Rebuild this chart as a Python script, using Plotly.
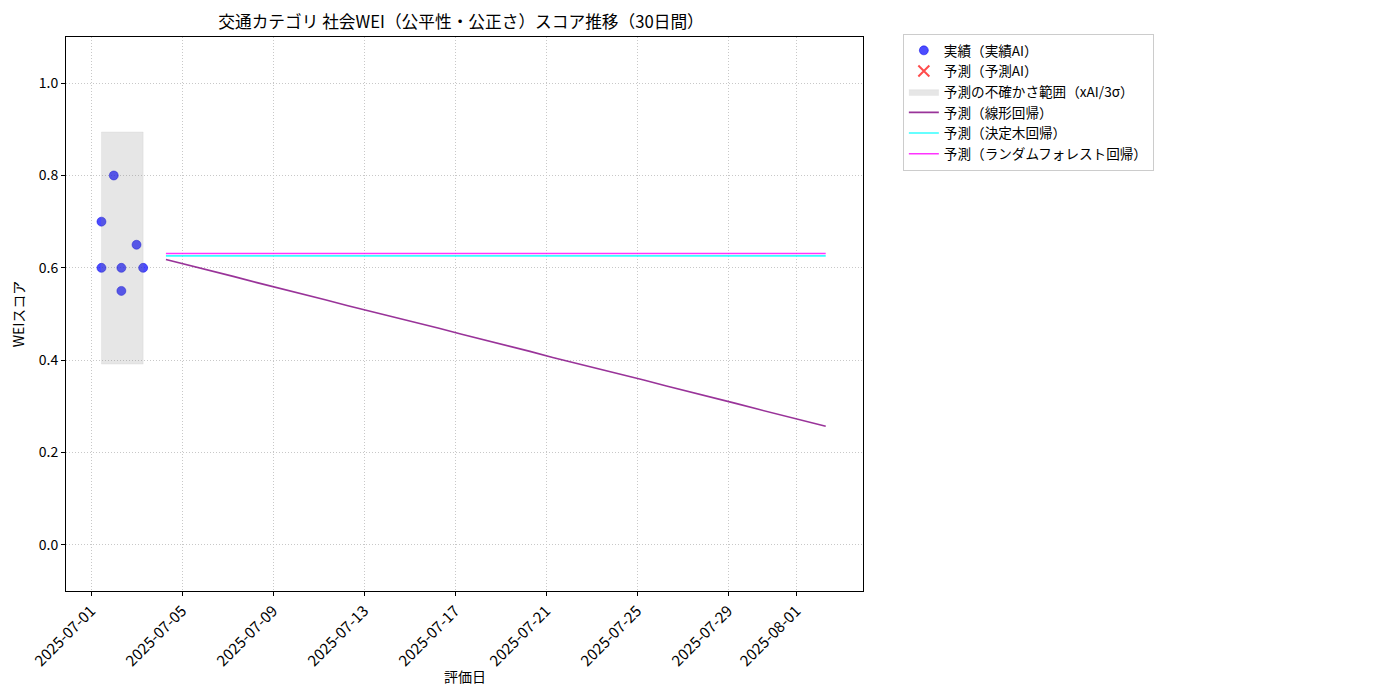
import numpy as np
import pandas as pd
import plotly.graph_objects as go

# ---- data ----
actual_dates = ["2025-07-01 11:00", "2025-07-01 11:00", "2025-07-02 00:00",
                "2025-07-02 08:00", "2025-07-02 08:00", "2025-07-03 00:00",
                "2025-07-03 07:00"]
actual_values = [0.70, 0.60, 0.80, 0.60, 0.55, 0.65, 0.60]

forecast_start = "2025-07-04 07:00"
forecast_days = 30
linear_values = [0.618, 0.606, 0.593, 0.581, 0.568, 0.556, 0.543, 0.531, 0.518, 0.506,
                 0.493, 0.481, 0.469, 0.456, 0.444, 0.431, 0.419, 0.406, 0.394, 0.381,
                 0.369, 0.357, 0.344, 0.332, 0.319, 0.307, 0.294, 0.282, 0.269, 0.257]
tree_values = [0.626] * 30
forest_values = [0.631] * 30

tick_dates = ["2025-07-01", "2025-07-05", "2025-07-09", "2025-07-13", "2025-07-17",
              "2025-07-21", "2025-07-25", "2025-07-29", "2025-08-01"]

title_text = "交通カテゴリ 社会WEI（公平性・公正さ）スコア推移（30日間）"
FONT = "Noto Sans CJK JP"

# ---- derived ----
ad = pd.to_datetime(actual_dates)
fd = pd.date_range(start=forecast_start, periods=forecast_days, freq="D")
mean = float(np.mean(actual_values))
sd = float(np.std(actual_values, ddof=1))
lo, hi = mean - 3 * sd, mean + 3 * sd
x0, x1 = ad.min(), ad.max()

fig = go.Figure()
fig.add_trace(go.Scatter(
    x=ad, y=actual_values, mode="markers", name="実績（実績AI）",
    marker=dict(color="rgba(0,0,255,0.7)", size=9,
                line=dict(width=0.6, color="rgba(0,0,230,0.8)"))))
fig.add_trace(go.Scatter(
    x=[None], y=[None], mode="markers", name="予測（予測AI）",
    marker=dict(color="rgba(255,0,0,0.7)", symbol="x-thin", size=11,
                line=dict(color="rgba(255,0,0,0.7)", width=2))))
fig.add_trace(go.Scatter(
    x=[x0, x1, x1, x0, x0], y=[lo, lo, hi, hi, lo], mode="lines",
    fill="toself", fillcolor="rgba(128,128,128,0.2)",
    line=dict(width=0.5, color="rgba(128,128,128,0.2)"),
    name="予測の不確かさ範囲（xAI/3σ）"))
fig.add_trace(go.Scatter(
    x=fd, y=linear_values, mode="lines", name="予測（線形回帰）",
    line=dict(color="rgba(128,0,128,0.8)", width=1.6)))
fig.add_trace(go.Scatter(
    x=fd, y=tree_values, mode="lines", name="予測（決定木回帰）",
    line=dict(color="rgba(0,255,255,0.8)", width=1.6)))
fig.add_trace(go.Scatter(
    x=fd, y=forest_values, mode="lines", name="予測（ランダムフォレスト回帰）",
    line=dict(color="rgba(255,0,255,0.8)", width=1.6)))

fig.update_layout(
    width=1400, height=700,
    margin=dict(l=58, r=545, t=29, b=117, autoexpand=False),
    paper_bgcolor="white", plot_bgcolor="white",
    font=dict(family=FONT, size=14, color="black"),
    title=dict(text=title_text, x=0.3236, xanchor="center", y=1 - 14 / 700,
               yanchor="middle", yref="container", font=dict(size=16.7)),
    legend=dict(x=1.05, y=1.0 + 3 / 554, xanchor="left", yanchor="top",
                bordercolor="#cccccc", borderwidth=1, bgcolor="white",
                font=dict(size=13.6), tracegroupgap=0, itemwidth=30),
    showlegend=True,
    annotations=[dict(text="評価日", xref="paper", yref="paper",
                      x=0.5, y=-85 / 554, xanchor="center", yanchor="middle",
                      showarrow=False, font=dict(size=14))],
)
GRID = dict(showgrid=True, gridcolor="#c8c8c8", griddash="1px,2px", gridwidth=0.8)
fig.update_xaxes(
    type="date", automargin=False,
    range=[pd.Timestamp("2025-07-01") - pd.Timedelta(days=1.1),
           pd.Timestamp("2025-07-01") + pd.Timedelta(days=33.93)],
    tickvals=tick_dates, ticktext=tick_dates, tickangle=-45,
    showline=True, linecolor="black", linewidth=1, mirror=True,
    ticks="outside", ticklen=4, tickcolor="black",
    zeroline=False, tickfont=dict(size=15.2),
    **GRID,
)
fig.update_yaxes(
    range=[-0.1, 1.1], tick0=0, dtick=0.2, tickformat=".1f", automargin=False,
    showline=True, linecolor="black", linewidth=1, mirror=True,
    ticks="outside", ticklen=4, tickcolor="black",
    zeroline=False, tickfont=dict(size=14),
    title=dict(text="WEIスコア", font=dict(size=14), standoff=12),
    **GRID,
)

fig.write_html("out.html")
